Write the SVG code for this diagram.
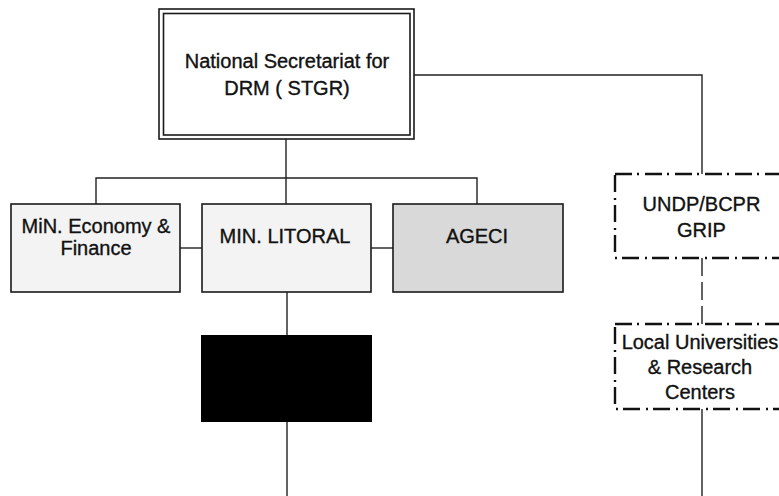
<svg xmlns="http://www.w3.org/2000/svg" width="779" height="496" viewBox="0 0 779 496">
<style>
.t{font-family:"Liberation Sans",Arial,sans-serif;font-size:20px;fill:#111;stroke:#111;stroke-width:0.35;text-anchor:middle}
.box{stroke:#1a1a1a;stroke-width:1.6}
.dd{fill:#fff;stroke:#111;stroke-width:2.4;stroke-dasharray:17 5 2 6}
.ln{fill:none;stroke:#222;stroke-width:1.4}
</style>
<rect width="779" height="496" fill="#fff"/>
<g id="connectors">
<polyline class="ln" points="414,75 702,75 702,174"/>
<line class="ln" x1="286" y1="139" x2="286" y2="204"/>
<polyline class="ln" points="96,204 96,178 477,178 477,204"/>
<line class="ln" x1="180" y1="248" x2="202" y2="248"/>
<line class="ln" x1="371" y1="248" x2="393" y2="248"/>
<line class="ln" x1="287" y1="292" x2="287" y2="496"/>
<line class="ln" x1="702" y1="258" x2="702" y2="324" stroke-dasharray="18 6"/>
<line class="ln" x1="702" y1="409" x2="702" y2="496" stroke="#444"/>
</g>
<g id="stgr">
<rect x="159" y="9" width="255" height="130" fill="#fff" class="box"/>
<rect x="163.5" y="13.5" width="246.5" height="121.5" fill="none" class="box"/>
<text class="t" x="287" y="68">National Secretariat for</text>
<text class="t" x="287" y="95">DRM ( STGR)</text>
</g>
<g id="economy">
<rect x="11" y="204" width="169" height="88" fill="#f3f3f3" class="box"/>
<text class="t" x="96" y="233">MiN. Economy &amp;</text>
<text class="t" x="96" y="255">Finance</text>
</g>
<g id="litoral">
<rect x="202" y="204" width="169" height="88" fill="#f3f3f3" class="box"/>
<text class="t" x="285" y="243">MIN. LITORAL</text>
</g>
<g id="ageci">
<rect x="393" y="204" width="170" height="88" fill="#d9d9d9" class="box"/>
<text class="t" x="477" y="243">AGECI</text>
</g>
<g id="black">
<rect x="201" y="335" width="171" height="87" fill="#000"/>
</g>
<g id="undp">
<rect x="615" y="174" width="180" height="84" class="dd"/>
<text class="t" x="701.5" y="211">UNDP/BCPR</text>
<text class="t" x="701.5" y="237">GRIP</text>
</g>
<g id="local">
<rect x="615" y="324" width="180" height="85" class="dd"/>
<text class="t" x="700" y="349">Local Universities</text>
<text class="t" x="700" y="374">&amp; Research</text>
<text class="t" x="700" y="399">Centers</text>
</g>
</svg>
